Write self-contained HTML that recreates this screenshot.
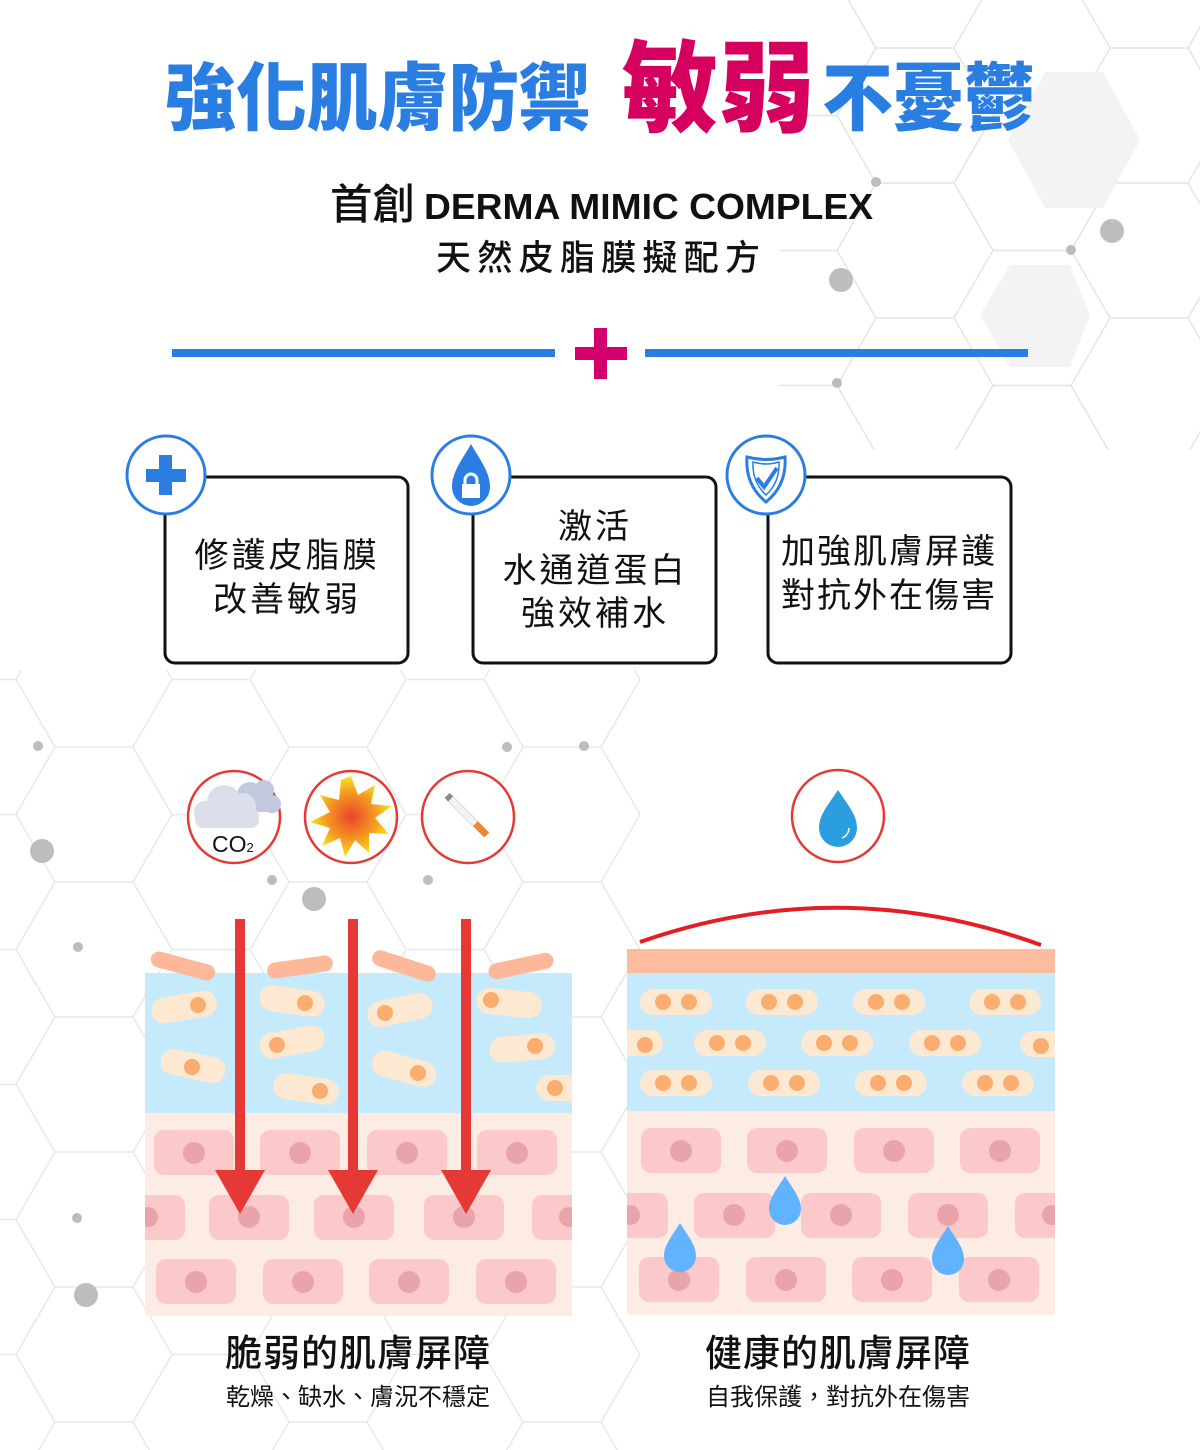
<!DOCTYPE html>
<html><head><meta charset="utf-8"><style>
html,body{margin:0;padding:0;background:#fff}
svg{display:block}
text{font-family:"Liberation Sans","Noto Sans CJK TC",sans-serif}
</style></head><body>
<svg width="1200" height="1450" viewBox="0 0 1200 1450" xmlns="http://www.w3.org/2000/svg">
<defs>
<pattern id="hexA" x="135" y="48" width="234" height="135" patternUnits="userSpaceOnUse">
<path d="M156,67.5 L117,135 L39,135 L0,67.5 L39,0 L117,0 Z M156,67.5 L234,67.5" fill="none" stroke="#e4e4e4" stroke-width="1.5"/>
</pattern>
<pattern id="hexB" x="250" y="72" width="234" height="135" patternUnits="userSpaceOnUse">
<path d="M156,67.5 L117,135 L39,135 L0,67.5 L39,0 L117,0 Z M156,67.5 L234,67.5" fill="none" stroke="#e8e8e8" stroke-width="1.5"/>
</pattern>
<radialGradient id="sun"><stop offset="0" stop-color="#e8452a"/><stop offset="0.6" stop-color="#f59a22"/><stop offset="1" stop-color="#f7e51a"/></radialGradient>
<g id="drop"><path d="M0,-24 C8,-11 16,-2 16,9 A16,16 0 0 1 -16,9 C-16,-2 -8,-11 0,-24Z" fill="#62b3ff"/></g>
<clipPath id="cl"><rect x="145" y="940" width="427" height="376"/></clipPath>
<clipPath id="cr"><rect x="627" y="940" width="428" height="376"/></clipPath>
</defs>

<rect x="780" y="0" width="420" height="450" fill="url(#hexA)"/>
<rect x="0" y="670" width="640" height="780" fill="url(#hexB)"/>
<polygon points="1045,72 1103,72 1140,140 1103,208 1045,208 1008,140" fill="#f3f3f3"/>
<polygon points="1010,265 1070,265 1090,315 1070,367 1010,367 980,315" fill="#f3f3f3"/>
<g fill="#bdbdbd">
<circle cx="876" cy="182" r="5"/><circle cx="1112" cy="231" r="12"/><circle cx="841" cy="280" r="12"/>
<circle cx="1071" cy="250" r="5"/><circle cx="837" cy="383" r="5"/><circle cx="42" cy="851" r="12"/>
<circle cx="314" cy="899" r="12"/><circle cx="272" cy="880" r="5"/><circle cx="428" cy="880" r="5"/>
<circle cx="584" cy="746" r="5"/><circle cx="507" cy="747" r="5"/><circle cx="38" cy="746" r="5"/>
<circle cx="78" cy="947" r="5"/><circle cx="77" cy="1218" r="5"/><circle cx="86" cy="1295" r="12"/>
</g>

<text x="165" y="124" font-size="74" font-weight="900" fill="#2a7de1" textLength="425" lengthAdjust="spacingAndGlyphs" font-family="'Noto Sans CJK TC',sans-serif">強化肌膚防禦</text>
<text x="622" y="124" font-size="100" font-weight="900" fill="#d6005f" textLength="193" lengthAdjust="spacingAndGlyphs" font-family="'Noto Sans CJK TC',sans-serif">敏弱</text>
<text x="822" y="124" font-size="74" font-weight="900" fill="#2a7de1" textLength="213" lengthAdjust="spacingAndGlyphs" font-family="'Noto Sans CJK TC',sans-serif">不憂鬱</text>

<text x="330" y="219" font-size="42" font-weight="500" fill="#111" textLength="85" lengthAdjust="spacingAndGlyphs" font-family="'Noto Sans CJK TC',sans-serif">首創</text>
<text x="424" y="219" font-size="36" font-weight="700" fill="#111" textLength="449" lengthAdjust="spacingAndGlyphs">DERMA MIMIC COMPLEX</text>
<text x="436" y="270" font-size="35" font-weight="500" fill="#111" textLength="324" lengthAdjust="spacing" font-family="'Noto Sans CJK TC',sans-serif">天然皮脂膜擬配方</text>

<rect x="172" y="349" width="383" height="8" fill="#2a7de1"/>
<rect x="645" y="349" width="383" height="8" fill="#2a7de1"/>
<rect x="575" y="347" width="52" height="13" fill="#d4006f"/>
<rect x="594" y="328" width="13" height="51" fill="#d4006f"/>

<g fill="#fff" stroke="#111" stroke-width="3">
<rect x="165" y="477" width="243" height="186" rx="10"/>
<rect x="473" y="477" width="243" height="186" rx="10"/>
<rect x="768" y="477" width="243" height="186" rx="10"/>
</g>
<g fill="#fff" stroke="#2a7de1" stroke-width="3">
<circle cx="166" cy="475" r="39"/><circle cx="471" cy="475" r="39"/><circle cx="766" cy="475" r="39"/>
</g>
<rect x="146" y="469" width="40" height="13" fill="#2a7de1"/>
<rect x="159" y="455" width="13" height="40" fill="#2a7de1"/>
<path d="M471,444 C480,460 490,472 490,487 A19,19 0 0 1 452,487 C452,472 462,460 471,444Z" fill="#2a7de1"/>
<rect x="462" y="484" width="18" height="14" fill="#fff"/>
<path d="M465,485 v-5 a6,6 0 0 1 12,0 v5" fill="none" stroke="#fff" stroke-width="3"/>
<path d="M747,457 Q766,462 785,457 Q787,485 766,502 Q745,485 747,457Z" fill="none" stroke="#2a7de1" stroke-width="3"/>
<path d="M753,462 Q766,466 779,462 Q780,482 766,495 Q752,482 753,462Z" fill="none" stroke="#2a7de1" stroke-width="1.5"/>
<path d="M757,478 L764,487 L777,468" fill="none" stroke="#2a7de1" stroke-width="4"/>

<g font-size="34" fill="#111" text-anchor="middle" font-family="'Noto Sans CJK TC',sans-serif">
<text x="287" y="567" letter-spacing="3">修護皮脂膜</text>
<text x="287" y="611" letter-spacing="3">改善敏弱</text>
<text x="595" y="538" letter-spacing="3">激活</text>
<text x="595" y="582" letter-spacing="3">水通道蛋白</text>
<text x="595" y="625" letter-spacing="3">強效補水</text>
<text x="889" y="563" letter-spacing="2">加強肌膚屏護</text>
<text x="889" y="607" letter-spacing="2">對抗外在傷害</text>
</g>

<g fill="#fff" stroke="#e53935" stroke-width="2.5">
<circle cx="234" cy="817" r="46"/><circle cx="351" cy="817" r="46"/><circle cx="468" cy="817" r="46"/><circle cx="838" cy="816" r="46"/>
</g>
<g fill="#c2c8de"><circle cx="250" cy="795" r="13"/><circle cx="264" cy="790" r="10"/><circle cx="272" cy="804" r="9"/><rect x="236" y="798" width="44" height="14" rx="6"/></g>
<g fill="#dcdfea"><circle cx="224" cy="802" r="17"/><circle cx="243" cy="806" r="13"/><circle cx="205" cy="812" r="11"/><rect x="195" y="808" width="64" height="20" rx="8"/></g>
<text x="212" y="852" font-size="23" fill="#111">CO<tspan font-size="13">2</tspan></text>
<polygon fill="url(#sun)" points="351,776 358,795 375,785 371,804 392,806 375,818 389,834 369,833 369,853 355,840 345,857 340,838 322,846 330,828 310,822 330,812 320,795 339,800 341,780"/>
<g transform="rotate(45 468 817)">
<rect x="442" y="813" width="36" height="7" fill="#f2f2f2" stroke="#ccc" stroke-width="0.6"/>
<rect x="478" y="813" width="16" height="7" fill="#e98a2d"/>
<rect x="438" y="813" width="5" height="7" fill="#888"/>
</g>
<path d="M838,790 C848,805 857,815 857,828 A19,19 0 0 1 819,828 C819,815 828,805 838,790Z" fill="#2b9ee0"/>
<path d="M849,828 A11,11 0 0 1 842,838" fill="none" stroke="#fff" stroke-width="1.5"/>

<g clip-path="url(#cl)">
<rect x="145" y="973" width="427" height="140" fill="#c5eafc"/>
<rect x="145" y="1113" width="427" height="203" fill="#fdece4"/>
<g fill="#fde8d2">
<rect x="151" y="994" width="66" height="26" rx="13" transform="rotate(-10 184 1007)"/>
<rect x="160" y="1053" width="66" height="26" rx="13" transform="rotate(12 193 1066)"/>
<rect x="259" y="988" width="66" height="26" rx="13" transform="rotate(8 292 1001)"/>
<rect x="259" y="1029" width="66" height="26" rx="13" transform="rotate(-10 292 1042)"/>
<rect x="273" y="1076" width="66" height="26" rx="13" transform="rotate(8 306 1089)"/>
<rect x="367" y="997" width="66" height="26" rx="13" transform="rotate(-12 400 1010)"/>
<rect x="371" y="1056" width="66" height="26" rx="13" transform="rotate(15 404 1069)"/>
<rect x="476" y="990" width="66" height="26" rx="13" transform="rotate(6 509 1003)"/>
<rect x="489" y="1035" width="66" height="26" rx="13" transform="rotate(-5 522 1048)"/>
<rect x="536" y="1075" width="50" height="26" rx="13"/>
</g>
<g fill="#fbad6f">
<circle cx="198" cy="1005" r="8"/><circle cx="192" cy="1067" r="8"/><circle cx="305" cy="1003" r="8"/>
<circle cx="277" cy="1045" r="8"/><circle cx="320" cy="1091" r="8"/><circle cx="385" cy="1013" r="8"/>
<circle cx="418" cy="1073" r="8"/><circle cx="491" cy="1000" r="8"/><circle cx="535" cy="1046" r="8"/><circle cx="555" cy="1088" r="8"/>
</g>
<g fill="#fbc9c9">
<rect x="154" y="1130" width="80" height="45" rx="10"/><rect x="260" y="1130" width="80" height="45" rx="10"/><rect x="367" y="1130" width="80" height="45" rx="10"/><rect x="477" y="1130" width="80" height="45" rx="10"/>
<rect x="135" y="1195" width="50" height="45" rx="10"/><rect x="209" y="1195" width="80" height="45" rx="10"/><rect x="314" y="1195" width="80" height="45" rx="10"/><rect x="424" y="1195" width="80" height="45" rx="10"/><rect x="532" y="1195" width="50" height="45" rx="10"/>
<rect x="156" y="1259" width="80" height="45" rx="10"/><rect x="263" y="1259" width="80" height="45" rx="10"/><rect x="369" y="1259" width="80" height="45" rx="10"/><rect x="476" y="1259" width="80" height="45" rx="10"/>
</g>
<g fill="#e8a4aa">
<circle cx="194" cy="1153" r="11"/><circle cx="300" cy="1153" r="11"/><circle cx="407" cy="1153" r="11"/><circle cx="517" cy="1153" r="11"/>
<circle cx="148" cy="1217" r="10"/><circle cx="249" cy="1217" r="11"/><circle cx="354" cy="1217" r="11"/><circle cx="464" cy="1217" r="11"/><circle cx="569" cy="1217" r="10"/>
<circle cx="196" cy="1282" r="11"/><circle cx="303" cy="1282" r="11"/><circle cx="409" cy="1282" r="11"/><circle cx="516" cy="1282" r="11"/>
</g>
</g>
<g fill="#fdb89a">
<rect x="150" y="958" width="66" height="16" rx="8" transform="rotate(15 183 966)"/>
<rect x="267" y="959" width="66" height="16" rx="8" transform="rotate(-8 300 967)"/>
<rect x="371" y="958" width="66" height="16" rx="8" transform="rotate(18 404 966)"/>
<rect x="488" y="958" width="66" height="16" rx="8" transform="rotate(-12 521 966)"/>
</g>
<g fill="#e53935">
<rect x="235" y="919" width="10" height="255"/><polygon points="215,1170 265,1170 240,1214"/>
<rect x="348" y="919" width="10" height="255"/><polygon points="328,1170 378,1170 353,1214"/>
<rect x="461" y="919" width="10" height="255"/><polygon points="441,1170 491,1170 466,1214"/>
</g>

<path d="M640,942 Q840,872 1041,945" fill="none" stroke="#e31e24" stroke-width="4"/>
<g clip-path="url(#cr)">
<rect x="627" y="949" width="428" height="24" fill="#fdbc9e"/>
<rect x="627" y="973" width="428" height="138" fill="#c5eafc"/>
<rect x="627" y="1111" width="428" height="204" fill="#fdece4"/>
<g fill="#fde8d2">
<rect x="640" y="989" width="72" height="26" rx="13"/><rect x="746" y="989" width="72" height="26" rx="13"/><rect x="853" y="989" width="72" height="26" rx="13"/><rect x="969" y="989" width="72" height="26" rx="13"/>
<rect x="610" y="1030" width="53" height="26" rx="13"/><rect x="694" y="1030" width="72" height="26" rx="13"/><rect x="801" y="1030" width="72" height="26" rx="13"/><rect x="909" y="1030" width="72" height="26" rx="13"/><rect x="1020" y="1031" width="50" height="26" rx="13"/>
<rect x="640" y="1070" width="72" height="26" rx="13"/><rect x="748" y="1070" width="72" height="26" rx="13"/><rect x="855" y="1070" width="72" height="26" rx="13"/><rect x="962" y="1070" width="72" height="26" rx="13"/>
</g>
<g fill="#fbad6f">
<circle cx="663" cy="1002" r="8"/><circle cx="689" cy="1002" r="8"/><circle cx="769" cy="1002" r="8"/><circle cx="795" cy="1002" r="8"/><circle cx="876" cy="1002" r="8"/><circle cx="902" cy="1002" r="8"/><circle cx="992" cy="1002" r="8"/><circle cx="1018" cy="1002" r="8"/>
<circle cx="645" cy="1045" r="8"/><circle cx="717" cy="1043" r="8"/><circle cx="743" cy="1043" r="8"/><circle cx="824" cy="1043" r="8"/><circle cx="850" cy="1043" r="8"/><circle cx="932" cy="1043" r="8"/><circle cx="958" cy="1043" r="8"/><circle cx="1041" cy="1046" r="8"/>
<circle cx="663" cy="1083" r="8"/><circle cx="689" cy="1083" r="8"/><circle cx="771" cy="1083" r="8"/><circle cx="797" cy="1083" r="8"/><circle cx="878" cy="1083" r="8"/><circle cx="904" cy="1083" r="8"/><circle cx="985" cy="1083" r="8"/><circle cx="1011" cy="1083" r="8"/>
</g>
<g fill="#fbc9c9">
<rect x="641" y="1128" width="80" height="45" rx="10"/><rect x="747" y="1128" width="80" height="45" rx="10"/><rect x="854" y="1128" width="80" height="45" rx="10"/><rect x="960" y="1128" width="80" height="45" rx="10"/>
<rect x="617" y="1193" width="51" height="45" rx="10"/><rect x="694" y="1193" width="81" height="45" rx="10"/><rect x="801" y="1193" width="80" height="45" rx="10"/><rect x="908" y="1193" width="80" height="45" rx="10"/><rect x="1015" y="1193" width="50" height="45" rx="10"/>
<rect x="639" y="1257" width="80" height="45" rx="10"/><rect x="746" y="1257" width="80" height="45" rx="10"/><rect x="852" y="1257" width="80" height="45" rx="10"/><rect x="959" y="1257" width="80" height="45" rx="10"/>
</g>
<g fill="#e8a4aa">
<circle cx="681" cy="1151" r="11"/><circle cx="787" cy="1151" r="11"/><circle cx="894" cy="1151" r="11"/><circle cx="1000" cy="1151" r="11"/>
<circle cx="630" cy="1215" r="10"/><circle cx="734" cy="1215" r="11"/><circle cx="841" cy="1215" r="11"/><circle cx="948" cy="1215" r="11"/><circle cx="1052" cy="1215" r="10"/>
<circle cx="679" cy="1280" r="11"/><circle cx="786" cy="1280" r="11"/><circle cx="892" cy="1280" r="11"/><circle cx="999" cy="1280" r="11"/>
</g>
</g>
<use href="#drop" transform="translate(785,1200)"/>
<use href="#drop" transform="translate(680,1247)"/>
<use href="#drop" transform="translate(948,1250)"/>

<g text-anchor="middle" fill="#111" font-family="'Noto Sans CJK TC',sans-serif">
<text x="358" y="1366" font-size="37" font-weight="500" letter-spacing="1">脆弱的肌膚屏障</text>
<text x="358" y="1405" font-size="24">乾燥、缺水、膚況不穩定</text>
<text x="838" y="1366" font-size="37" font-weight="500" letter-spacing="1">健康的肌膚屏障</text>
<text x="838" y="1405" font-size="24">自我保護，對抗外在傷害</text>
</g>
</svg>
</body></html>
